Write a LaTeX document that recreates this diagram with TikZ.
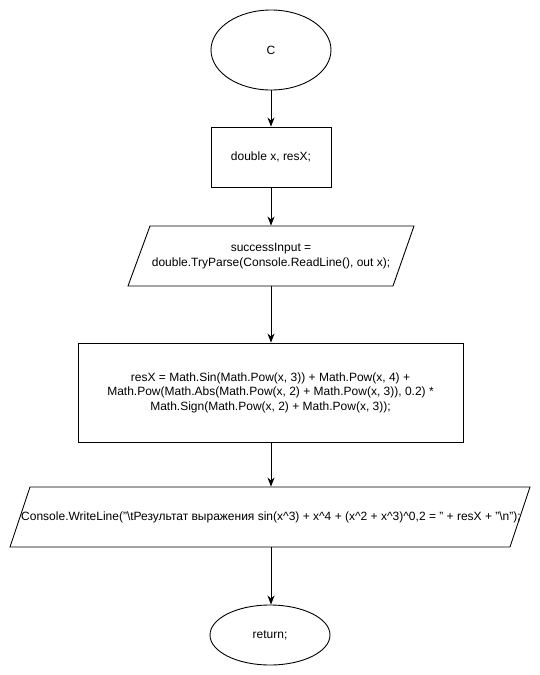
\documentclass[tikz,border=0pt]{standalone}
\usepackage{fontspec}
\setmainfont{Liberation Sans}
\usetikzlibrary{calc}
\usetikzlibrary{shapes.geometric}
\usetikzlibrary{arrows.meta}

\begin{document}
\begin{tikzpicture}[x=1pt,y=-1pt,line width=0.9pt,
  every node/.style={font=\fontsize{12}{14.4}\selectfont,align=center},
  term/.style={draw,ellipse,minimum width=120,minimum height=#1,inner sep=0pt},
  proc/.style={draw,rectangle,inner sep=0pt},
  io/.style={rectangle,inner sep=0pt,minimum height=60},
  arr/.style={-{Stealth[length=9pt,width=7pt]}}]
\useasboundingbox (0,0) rectangle (540,675);
\node[term=80] (start) at (271, 50) {C};
\node[proc,minimum width=120,minimum height=60] (decl) at (271, 157) {double x, resX;};
\node[io,minimum width=264] (input) at (271, 256)
  {successInput =\\double.TryParse(Console.ReadLine(), out x);};
\draw ($(input)+(-121,-30)$) -- ($(input)+(143,-30)$) -- ($(input)+(122,30)$)
  -- ($(input)+(-143,30)$) -- cycle;
\node[proc,minimum width=385,minimum height=99] (calc) at (270.5, 392.5)
  {resX = Math.Sin(Math.Pow(x, 3)) + Math.Pow(x, 4) +\\
   Math.Pow(Math.Abs(Math.Pow(x, 2) + Math.Pow(x, 3)), 0.2) *\\
   Math.Sign(Math.Pow(x, 2) + Math.Pow(x, 3));};
\node[io] (output) at (271, 517)
  {Console.WriteLine("\textbackslash tРезультат выражения sin(x\textasciicircum 3) + x\textasciicircum 4 + (x\textasciicircum 2 + x\textasciicircum 3)\textasciicircum 0,2 = " + resX + "\textbackslash n");};
\draw ($(output)+(-241,-30)$) -- ($(output)+(259,-30)$) -- ($(output)+(239,30)$)
  -- ($(output)+(-261,30)$) -- cycle;
\node[term=60] (stop) at (270, 635) {return;};

\draw[arr] (start) -- (decl);
\draw[arr] (decl) -- (decl |- input.north);
\draw[arr] (decl |- input.south) -- (decl |- calc.north);
\draw[arr] (calc.south -| decl) -- (decl |- output.north);
\draw[arr] (decl |- output.south) -- (decl |- stop.north);
\end{tikzpicture}
\end{document}
